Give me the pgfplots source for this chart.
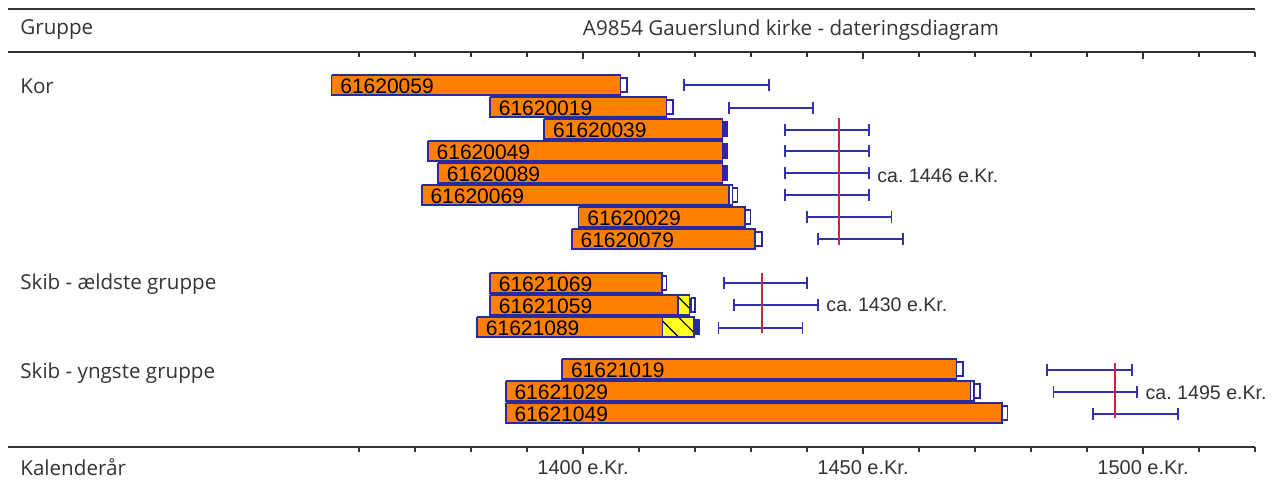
\documentclass[border=0pt]{standalone}
\usepackage{pgfplots}
\pgfplotsset{compat=1.18}
\usepackage{fontspec}
\setmainfont{Liberation Sans}
\newfontfamily\comic{Open Sans}
\usetikzlibrary{patterns.meta}
\definecolor{barfill}{HTML}{FF8000}
\definecolor{barline}{HTML}{2A2AA0}
\definecolor{errc}{HTML}{3232B0}
\definecolor{redc}{HTML}{C8283C}
\definecolor{sapc}{HTML}{FFFF20}
\definecolor{txt}{HTML}{333333}
% rectangle from x=#1 to #2, y=#3 to #4, style #5
\newcommand\rect[5]{\addplot[#5] coordinates {(#1,#3) (#2,#3) (#2,#4) (#1,#4) (#1,#3)};}
\newcommand\err[3]{\addplot[errc, line width=0.9pt, mark=|, mark size=3pt, mark options={line width=0.9pt}] coordinates {(#2,#1) (#3,#1)};}
\tikzset{heart/.style={fill=barfill, draw=barline, line width=0.9pt, line join=miter},
 sap/.style={fill=sapc, draw=barline, line width=0.9pt, postaction={pattern={Lines[angle=-45,distance=7pt,line width=0.6pt]}}},
 wbox/.style={fill=white, draw=barline, line width=0.9pt},
 fbox/.style={fill=barline, draw=barline, line width=0.9pt},
 lbl/.style={anchor=west, font=\fontsize{10.5}{12}\selectfont, text=black, inner sep=0pt, yshift=-0.6pt},
 grp/.style={anchor=west, font=\comic\fontsize{10.3}{12}\selectfont, text=txt, inner sep=0pt},
 ca/.style={anchor=west, font=\fontsize{9.8}{12}\selectfont, text=txt, inner sep=0pt}}
\begin{document}
\begin{tikzpicture}
\begin{axis}[width=636.5pt, height=245pt, scale only axis,
  xmin=1295.893, xmax=1523.214, ymin=0, ymax=490, y dir=reverse,
  axis lines=none, clip=false]
% frame lines
\addplot[black!80, line width=1.1pt] coordinates {(1297.32,9) (1520,9)};
\addplot[black!80, line width=1.1pt] coordinates {(1297.32,52) (1520,52)};
\addplot[black!80, line width=1.1pt] coordinates {(1297.32,447) (1520,447)};
\pgfplotsinvokeforeach{1360,1370,...,1520}{
  \draw[black!80, line width=0.8pt] (axis cs:#1,52) -- (axis cs:#1,57);
  \draw[black!80, line width=0.8pt] (axis cs:#1,447) -- (axis cs:#1,452);
}
\pgfplotsinvokeforeach{1400,1450,1500}{
  \draw[black!80, line width=0.8pt] (axis cs:#1,52) -- (axis cs:#1,59);
  \draw[black!80, line width=0.8pt] (axis cs:#1,447) -- (axis cs:#1,454);
  \node[font=\fontsize{10}{12}\selectfont, text=txt] at (axis cs:#1,468) {#1 e.Kr.};
}
% header texts
\node[grp] at (axis cs:1299.46,30) {Gruppe};
\node[font=\comic\fontsize{10.3}{12}\selectfont, text=txt] at (axis cs:1437.14,30) {A9854 Gauerslund kirke - dateringsdiagram};
\node[grp] at (axis cs:1299.46,86) {Kor};
\node[grp] at (axis cs:1299.46,284) {Skib - ældste gruppe};
\node[grp] at (axis cs:1299.46,373) {Skib - yngste gruppe};
\node[grp] at (axis cs:1299.46,467) {Kalenderår};
% ---- Kor ----
\rect{1355.1}{1406.7}{75}{95}{heart} \rect{1406.7}{1407.8}{78}{92}{wbox}
\rect{1383.4}{1414.9}{97}{117}{heart} \rect{1414.9}{1416.0}{100}{114}{wbox}
\rect{1393.1}{1424.9}{119}{139}{heart} \rect{1424.9}{1425.8}{122}{136}{fbox}
\rect{1372.3}{1424.9}{141}{161}{heart} \rect{1424.9}{1425.8}{144}{158}{fbox}
\rect{1374.1}{1424.9}{163}{183}{heart} \rect{1424.9}{1425.8}{166}{180}{fbox}
\rect{1371.2}{1426.0}{185}{205}{heart} \rect{1426.0}{1426.7}{185}{205}{wbox} \rect{1426.7}{1427.6}{188}{202}{wbox}
\rect{1399.2}{1428.9}{207}{227}{heart} \rect{1428.9}{1429.9}{210}{224}{wbox}
\rect{1398.0}{1430.7}{229}{249}{heart} \rect{1430.7}{1431.9}{232}{246}{wbox}
\node[lbl] at (axis cs:1356.6,85) {61620059};
\node[lbl] at (axis cs:1384.9,107) {61620019};
\node[lbl] at (axis cs:1394.6,129) {61620039};
\node[lbl] at (axis cs:1373.8,151) {61620049};
\node[lbl] at (axis cs:1375.6,173) {61620089};
\node[lbl] at (axis cs:1372.7,195) {61620069};
\node[lbl] at (axis cs:1400.7,217) {61620029};
\node[lbl] at (axis cs:1399.5,239) {61620079};
\err{85}{1418}{1433.2}
\err{108}{1426}{1441.1}
\err{130}{1436}{1451.1}
\err{151}{1436}{1451.1}
\err{173}{1436}{1451.1}
\err{195}{1436}{1451.1}
\err{217}{1440}{1455.1}
\err{239}{1442}{1457.2}
\addplot[redc, line width=1pt] coordinates {(1445.7,118) (1445.7,245)};
\node[ca] at (axis cs:1452.5,176) {ca.\ 1446 e.Kr.};
% ---- Skib - aeldste gruppe ----
\rect{1383.4}{1414.05}{273}{293}{heart} \rect{1414.05}{1414.9}{276}{290}{wbox}
\rect{1383.4}{1417.0}{295}{315}{heart} \rect{1417.0}{1419.0}{295}{315}{sap} \rect{1419.3}{1420.0}{298}{312}{wbox}
\rect{1381.1}{1414.2}{317}{337}{heart} \rect{1414.2}{1419.8}{317}{337}{sap} \rect{1419.8}{1420.8}{320}{334}{fbox}
\node[lbl] at (axis cs:1384.9,283) {61621069};
\node[lbl] at (axis cs:1384.9,305) {61621059};
\node[lbl] at (axis cs:1382.6,327) {61621089};
\err{283}{1425.2}{1440}
\err{305}{1427}{1442}
\err{328}{1424.2}{1439.2}
\addplot[redc, line width=1pt] coordinates {(1432,273) (1432,333)};
\node[ca] at (axis cs:1443.4,305) {ca.\ 1430 e.Kr.};
% ---- Skib - yngste gruppe ----
\rect{1396.3}{1466.7}{359}{379}{heart} \rect{1466.7}{1467.8}{362}{376}{wbox}
\rect{1386.2}{1469.2}{381}{401}{heart} \rect{1469.2}{1469.8}{381}{401}{wbox} \rect{1469.8}{1470.9}{384}{398}{wbox}
\rect{1386.2}{1474.8}{403}{423}{heart} \rect{1474.8}{1475.8}{406}{420}{wbox}
\node[lbl] at (axis cs:1397.8,369) {61621019};
\node[lbl] at (axis cs:1387.7,391) {61621029};
\node[lbl] at (axis cs:1387.7,413) {61621049};
\err{370}{1482.9}{1498}
\err{392}{1484}{1498.9}
\err{414}{1491.1}{1506.3}
\addplot[redc, line width=1pt] coordinates {(1495,363) (1495,418)};
\node[ca] at (axis cs:1500.4,393) {ca.\ 1495 e.Kr.};
\end{axis}
\pgfresetboundingbox
\path[use as bounding box] (current axis.south west) rectangle (current axis.north east);
\end{tikzpicture}
\end{document}
